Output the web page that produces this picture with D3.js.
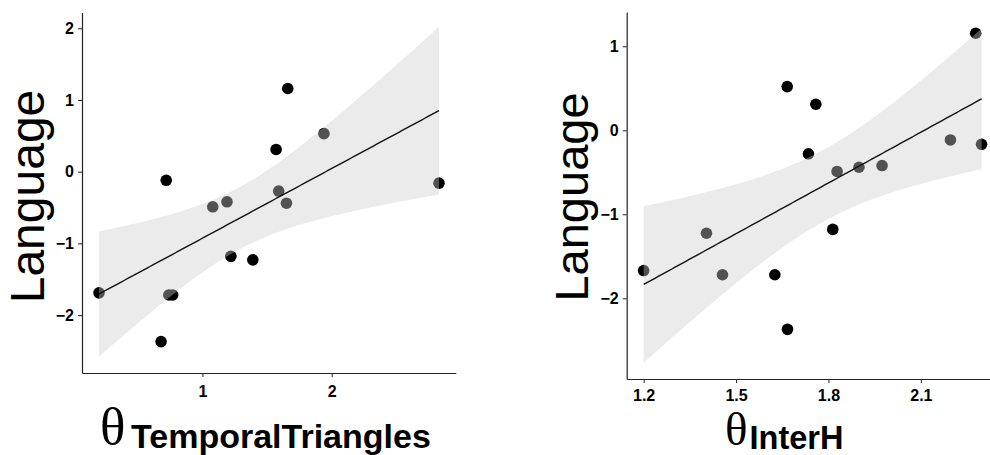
<!DOCTYPE html>
<html><head><meta charset="utf-8">
<script src="https://cdn.jsdelivr.net/npm/d3@7"></script>
<style>body{margin:0;background:#fff}svg{display:block}</style>
</head><body><svg id="c" width="990" height="455"></svg>
<script>
// ---- data ----
const tempX  = [0.20, 0.72, 1.66, 1.57, 1.94, 2.83, 1.08, 1.19, 1.59, 1.65, 1.22, 1.39, 0.74, 0.77, 0.68];
const tempY  = [-1.69, -0.12, 1.16, 0.31, 0.53, -0.16, -0.49, -0.42, -0.27, -0.44, -1.18, -1.23, -1.72, -1.72, -2.37];
const interX = [1.20, 1.404, 1.456, 1.626, 1.667, 1.666, 1.759, 1.735, 1.814, 1.828, 1.899, 1.974, 2.196, 2.278, 2.297];
const interY = [-1.67, -1.226, -1.72, -1.72, -2.37, 0.52, 0.31, -0.28, -1.18, -0.49, -0.44, -0.42, -0.115, 1.155, -0.167];
const yTitle = "Language";
const tempXTicks  = [1, 2];
const interXTicks = [1.2, 1.5, 1.8, 2.1];
const tempYTicks  = [-2, -1, 0, 1, 2];
const interYTicks = [-2, -1, 0, 1];

// linear model + 95% confidence band (as stat_smooth(method = "lm"))
function lmBand(xs, ys, steps) {
  const n = xs.length, mx = d3.mean(xs), my = d3.mean(ys);
  let sxx = 0, sxy = 0;
  xs.forEach((x, i) => { sxx += (x - mx) ** 2; sxy += (x - mx) * (ys[i] - my); });
  const b = sxy / sxx, a = my - b * mx;
  let ssr = 0;
  xs.forEach((x, i) => { ssr += (ys[i] - (a + b * x)) ** 2; });
  const s = Math.sqrt(ssr / (n - 2));
  const t = 2.1604; // t(0.975, df = 13)
  const [lo, hi] = d3.extent(xs);
  return d3.range(steps + 1).map(k => {
    const x = lo + (hi - lo) * k / steps;
    const y = a + b * x;
    const se = s * Math.sqrt(1 / n + (x - mx) ** 2 / sxx);
    return { x, y, lo: y - t * se, hi: y + t * se };
  });
}

const svg = d3.select("#c");

function panel(cfg) {
  const x = d3.scaleLinear().domain(cfg.xDom).range(cfg.xRange);
  const y = d3.scaleLinear().domain(cfg.yDom).range(cfg.yRange);
  const g = svg.append("g");

  // points (drawn under the band, as in the reference)
  g.selectAll("circle").data(cfg.xs.map((v, i) => [v, cfg.ys[i]])).join("circle")
    .attr("cx", d => x(d[0])).attr("cy", d => y(d[1])).attr("r", 5.8)
    .attr("fill", "#000");

  const band = lmBand(cfg.xs, cfg.ys, 120);
  g.append("path").datum(band)
    .attr("d", d3.area().x(d => x(d.x)).y0(d => y(d.lo)).y1(d => y(d.hi)))
    .attr("fill", "#cccccc").attr("fill-opacity", 0.4);
  g.append("path").datum(band)
    .attr("d", d3.line().x(d => x(d.x)).y(d => y(d.y)))
    .attr("fill", "none").attr("stroke", "#111").attr("stroke-width", 1.4);

  // axes
  const ya = g.append("g").attr("transform", `translate(${cfg.xRange[0]},0)`)
    .call(d3.axisLeft(y).tickValues(cfg.yTicks).tickSize(4).tickSizeOuter(0).tickPadding(4).tickFormat(d3.format("d")));
  const xa = g.append("g").attr("transform", `translate(0,${cfg.yRange[0]})`)
    .call(d3.axisBottom(x).tickValues(cfg.xTicks).tickSize(4).tickSizeOuter(0).tickPadding(cfg.xPad).tickFormat(cfg.xFmt));
  [ya, xa].forEach(a => {
    a.attr("font-size", null).attr("font-family", null);
    a.select(".domain").attr("stroke", "#222").attr("stroke-width", 1.2);
    a.selectAll(".tick line").attr("stroke", "#333").attr("stroke-width", 1.1);
    a.selectAll(".tick text").attr("fill", "#000")
      .attr("font-family", "'Liberation Sans', Arial, sans-serif")
      .attr("font-weight", "bold").attr("font-size", 16);
  });

  // y title
  svg.append("text")
    .attr("transform", `translate(${cfg.yTitlePos[0]},${cfg.yTitlePos[1]}) rotate(-90)`)
    .attr("text-anchor", "middle")
    .style("font-family", "'Liberation Sans', Arial, sans-serif")
    .style("font-size", cfg.yTitleSize + "px")
    .attr("fill", "#000").text(yTitle);

  // x title: theta with bold subscript
  svg.append("text").attr("x", cfg.thetaPos[0]).attr("y", cfg.thetaPos[1])
    .style("font-family", "'Liberation Serif', 'Times New Roman', serif")
    .style("font-size", cfg.thetaSize + "px").attr("fill", "#000").text("θ");
  svg.append("text").attr("x", cfg.subPos[0]).attr("y", cfg.subPos[1])
    .style("font-family", "'Liberation Sans', Arial, sans-serif")
    .style("font-weight", "bold")
    .style("font-size", cfg.subSize + "px").attr("fill", "#000").text(cfg.sub);
}

panel({
  xs: tempX, ys: tempY,
  xDom: [0.0685, 2.96], xRange: [82, 455.8],
  yDom: [-2.808, 2.22], yRange: [373, 12.5],
  xTicks: tempXTicks, yTicks: tempYTicks, xFmt: d3.format("d"), xPad: 9,
  yTitlePos: [43.5, 196.5], yTitleSize: 48,
  thetaPos: [100, 443.5], thetaSize: 53,
  subPos: [131, 447.5], subSize: 34, sub: "TemporalTriangles"
});

panel({
  xs: interX, ys: interY,
  xDom: [1.145, 2.352], xRange: [626.7, 998.5],
  yDom: [-2.961, 1.408], yRange: [379, 12],
  xTicks: interXTicks, yTicks: interYTicks, xFmt: d3.format(".1f"), xPad: 7,
  yTitlePos: [588.3, 197], yTitleSize: 47,
  thetaPos: [725, 444.5], thetaSize: 47,
  subPos: [749.5, 448.5], subSize: 32.5, sub: "InterH"
});
</script>
</body></html>
